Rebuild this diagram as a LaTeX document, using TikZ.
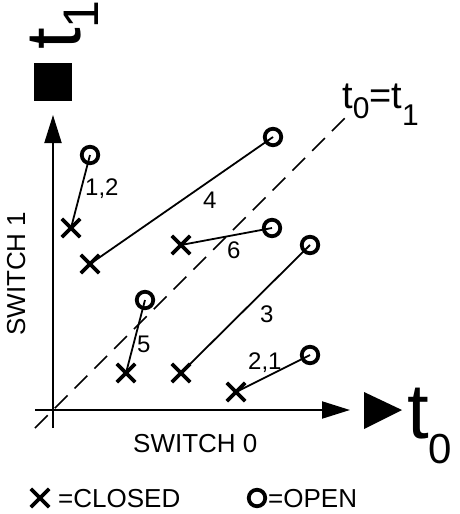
\documentclass[tikz,border=0pt]{standalone}
\usepackage{fontspec}
\setmainfont{Liberation Sans}
\usetikzlibrary{arrows.meta,shapes.misc}
\tikzset{
  xmark/.style={cross out, draw, line width=3.8pt, minimum size=14.5pt, inner sep=0pt},
  omark/.style={circle, draw, line width=3.8pt, minimum size=16.5pt, inner sep=0pt},
  conn/.style={line width=1.8pt},
  axis/.style={line width=2pt, -{Triangle[length=28pt,width=17pt]}},
  diag/.style={line width=1.6pt, dash pattern=on 18pt off 10pt},
  lbl/.style={inner sep=0pt, anchor=base west, font=\fontsize{24}{24}\selectfont},
  big/.style={inner sep=0pt, anchor=base west, font=\fontsize{26}{26}\selectfont}
}
\begin{document}
\begin{tikzpicture}[x=1pt,y=-1pt]
\useasboundingbox (0,0) rectangle (460,514);
% axes
\coordinate (ys) at (53,428);
\coordinate (ye) at (53,115);
\coordinate (xs) at (35,410);
\coordinate (xe) at (350,410);
\draw[axis] (ys) -- (ye);
\draw[axis] (xs) -- (xe);
% diagonal
\coordinate (ds) at (35,428);
\coordinate (de) at (346,117);
\draw[diag] (ds) -- (de);
% markers
\node[omark] (o12) at (90,155) {};
\node[xmark] (x12) at (71,228) {};
\node[xmark] (x4) at (90,264) {};
\node[omark] (o4) at (273,137) {};
\node[xmark] (x6) at (181,245) {};
\node[omark] (o6) at (272,228) {};
\node[xmark] (x3) at (181,373) {};
\node[omark] (o3) at (310,245) {};
\node[xmark] (x5) at (126,373) {};
\node[omark] (o5) at (145,300) {};
\node[xmark] (x21) at (236,392) {};
\node[omark] (o21) at (310,355) {};
% connectors
\draw[conn] (x12.center) -- (o12.center);
\draw[conn] (x4.center) -- (o4.center);
\draw[conn] (x6.center) -- (o6.center);
\draw[conn] (x3.center) -- (o3.center);
\draw[conn] (x5.center) -- (o5.center);
\draw[conn] (x21.center) -- (o21.center);
% labels
\node[lbl] (l12) at (85,195) {1,2};
\node[lbl] (l4) at (203,208) {4};
\node[lbl] (l6) at (227,258) {6};
\node[lbl] (l3) at (260,322) {3};
\node[lbl] (l5) at (137,352) {5};
\node[lbl] (l21) at (248,369) {2,1};
\node[inner sep=0pt, anchor=base west, font=\fontsize{38}{38}\selectfont] (leq) at (342,108) {t\raisebox{-10pt}{\fontsize{30}{30}\selectfont 0}=t\raisebox{-17pt}{\fontsize{30}{30}\selectfont 1}};
\node[big] (s0) at (133,452) {SWITCH 0};
\node[big, rotate=90] (s1) at (25,336) {SWITCH 1};
% big axis labels
\fill (364,392) -- (402,410) -- (364,429) -- cycle;
\node[inner sep=0pt, anchor=base west, font=\fontsize{78}{78}\selectfont] (t0) at (407,438) {t\raisebox{-25pt}{\fontsize{42}{42}\selectfont 0}};
\node[fill, minimum size=38pt, inner sep=0pt] (sq) at (53,82) {};
\node[inner sep=0pt, anchor=base west, rotate=90, font=\fontsize{78}{78}\selectfont] (t1) at (80,50) {t\raisebox{-18pt}{\fontsize{50}{50}\selectfont 1}};
% legend
\node[xmark] (lx) at (40,498) {};
\node[big] (lc) at (58,507) {=CLOSED};
\node[omark] (lo) at (257,498) {};
\node[big] (lop) at (268,507) {=OPEN};
\end{tikzpicture}
\end{document}
